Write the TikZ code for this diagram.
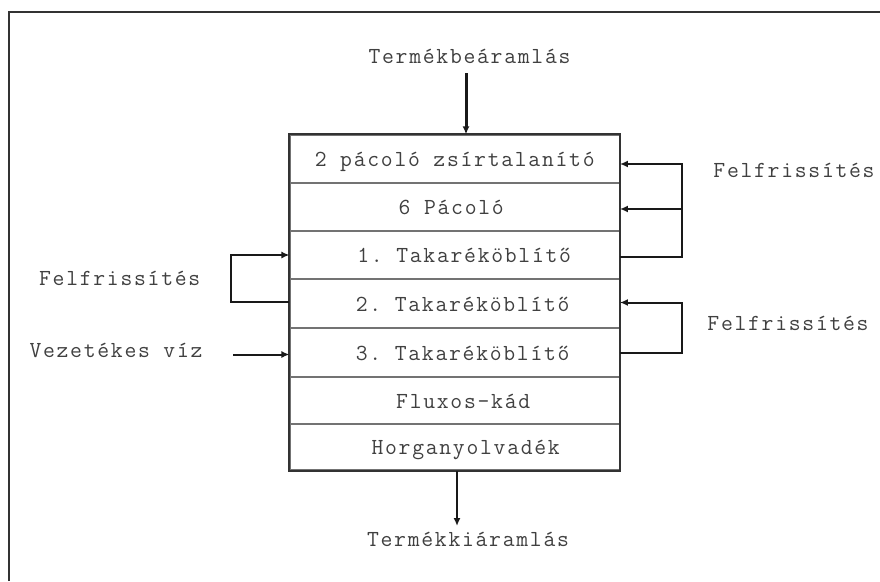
\documentclass[tikz,border=0pt]{standalone}
\usepackage{fontspec}
\setmonofont[LetterSpace=7.5]{Latin Modern Mono}
\usetikzlibrary{arrows.meta}
\begin{document}
\begin{tikzpicture}[x=1pt,y=-1pt,
  every node/.style={font=\ttfamily\fontsize{23}{27}\selectfont, text=black!75},
  label/.style={anchor=base, inner sep=0pt},
  stage/.style={draw=black!55, line width=1.2pt, minimum width=329.3pt,
                inner sep=0pt, text height=17pt, text depth=2pt},
  frameline/.style={draw=black!80, line width=2pt},
  flow/.style={draw=black!90, line width=2pt,
               -{Latex[length=8pt,width=7pt]}},
  mainflow/.style={flow, line width=3pt}]
\useasboundingbox (0,0) rectangle (880,581);
% outer frame
\draw[frameline] (9,581) -- (9,11.5) -- (880,11.5);

% process stages, top to bottom
\node[stage, minimum height=48pt] (r1) at (454.7,159)   {2 pácoló zsírtalanító};
\node[stage, minimum height=48pt] (r2) at (454.7,207)   {6 Pácoló\hspace*{7pt}};
\node[stage, minimum height=48pt] (r3) at (454.7,255)   {\hspace*{19pt}1. Takaréköblítő};
\node[stage, minimum height=49pt] (r4) at (454.7,303.5) {\hspace*{16pt}2. Takaréköblítő};
\node[stage, minimum height=49pt] (r5) at (454.7,352.5) {\hspace*{16pt}3. Takaréköblítő};
\node[stage, minimum height=47pt] (r6) at (454.7,400.5) {\hspace*{17pt}Fluxos-kád};
\node[stage, minimum height=46pt] (r7) at (454.7,447)   {\hspace*{22pt}Horganyolvadék};
\draw[frameline] (r1.north west) rectangle (r7.south east);

% product in / out
\node[label] (tin) at (469.5,63) {Termékbeáramlás};
\node[label] (tout) at (468,546) {Termékkiáramlás};
\coordinate (inTop) at (466,73);
\coordinate (outEnd) at (457,526);
\draw[mainflow] (inTop) -- (r1.north -| inTop);
\draw[flow] (r7.south -| outEnd) -- (outEnd);

% side labels
\node[label] (fr1) at (794,177) {Felfrissítés};
\node[label] (fr2) at (788,330) {Felfrissítés};
\node[label] (fl)  at (119.7,285.7) {Felfrissítés};
\node[label] (vv)  at (116,357.3) {Vezetékes víz};

% right refresh loop: rinse 1 -> degreasing and pickling
\coordinate (ra) at (682,164);
\coordinate (rb) at (682,209);
\coordinate (rc) at (682,256.5);
\draw[flow] (r3.east |- rc) -- (rc) -- (ra) -- (r1.east |- ra);
\draw[flow] (rb) -- (r2.east |- rb);

% right refresh loop: rinse 3 -> rinse 2
\coordinate (rd) at (682,302.5);
\coordinate (re) at (682,353);
\draw[flow] (r5.east |- re) -- (re) -- (rd) -- (r4.east |- rd);

% left refresh loop: rinse 2 -> rinse 1
\coordinate (la) at (230.5,255);
\coordinate (lb) at (230.5,301.5);
\draw[flow] (r4.west |- lb) -- (lb) -- (la) -- (r3.west |- la);

% tap water into rinse 3
\coordinate (lv) at (233,354.5);
\draw[flow] (lv) -- (r5.west |- lv);
\end{tikzpicture}
\end{document}
